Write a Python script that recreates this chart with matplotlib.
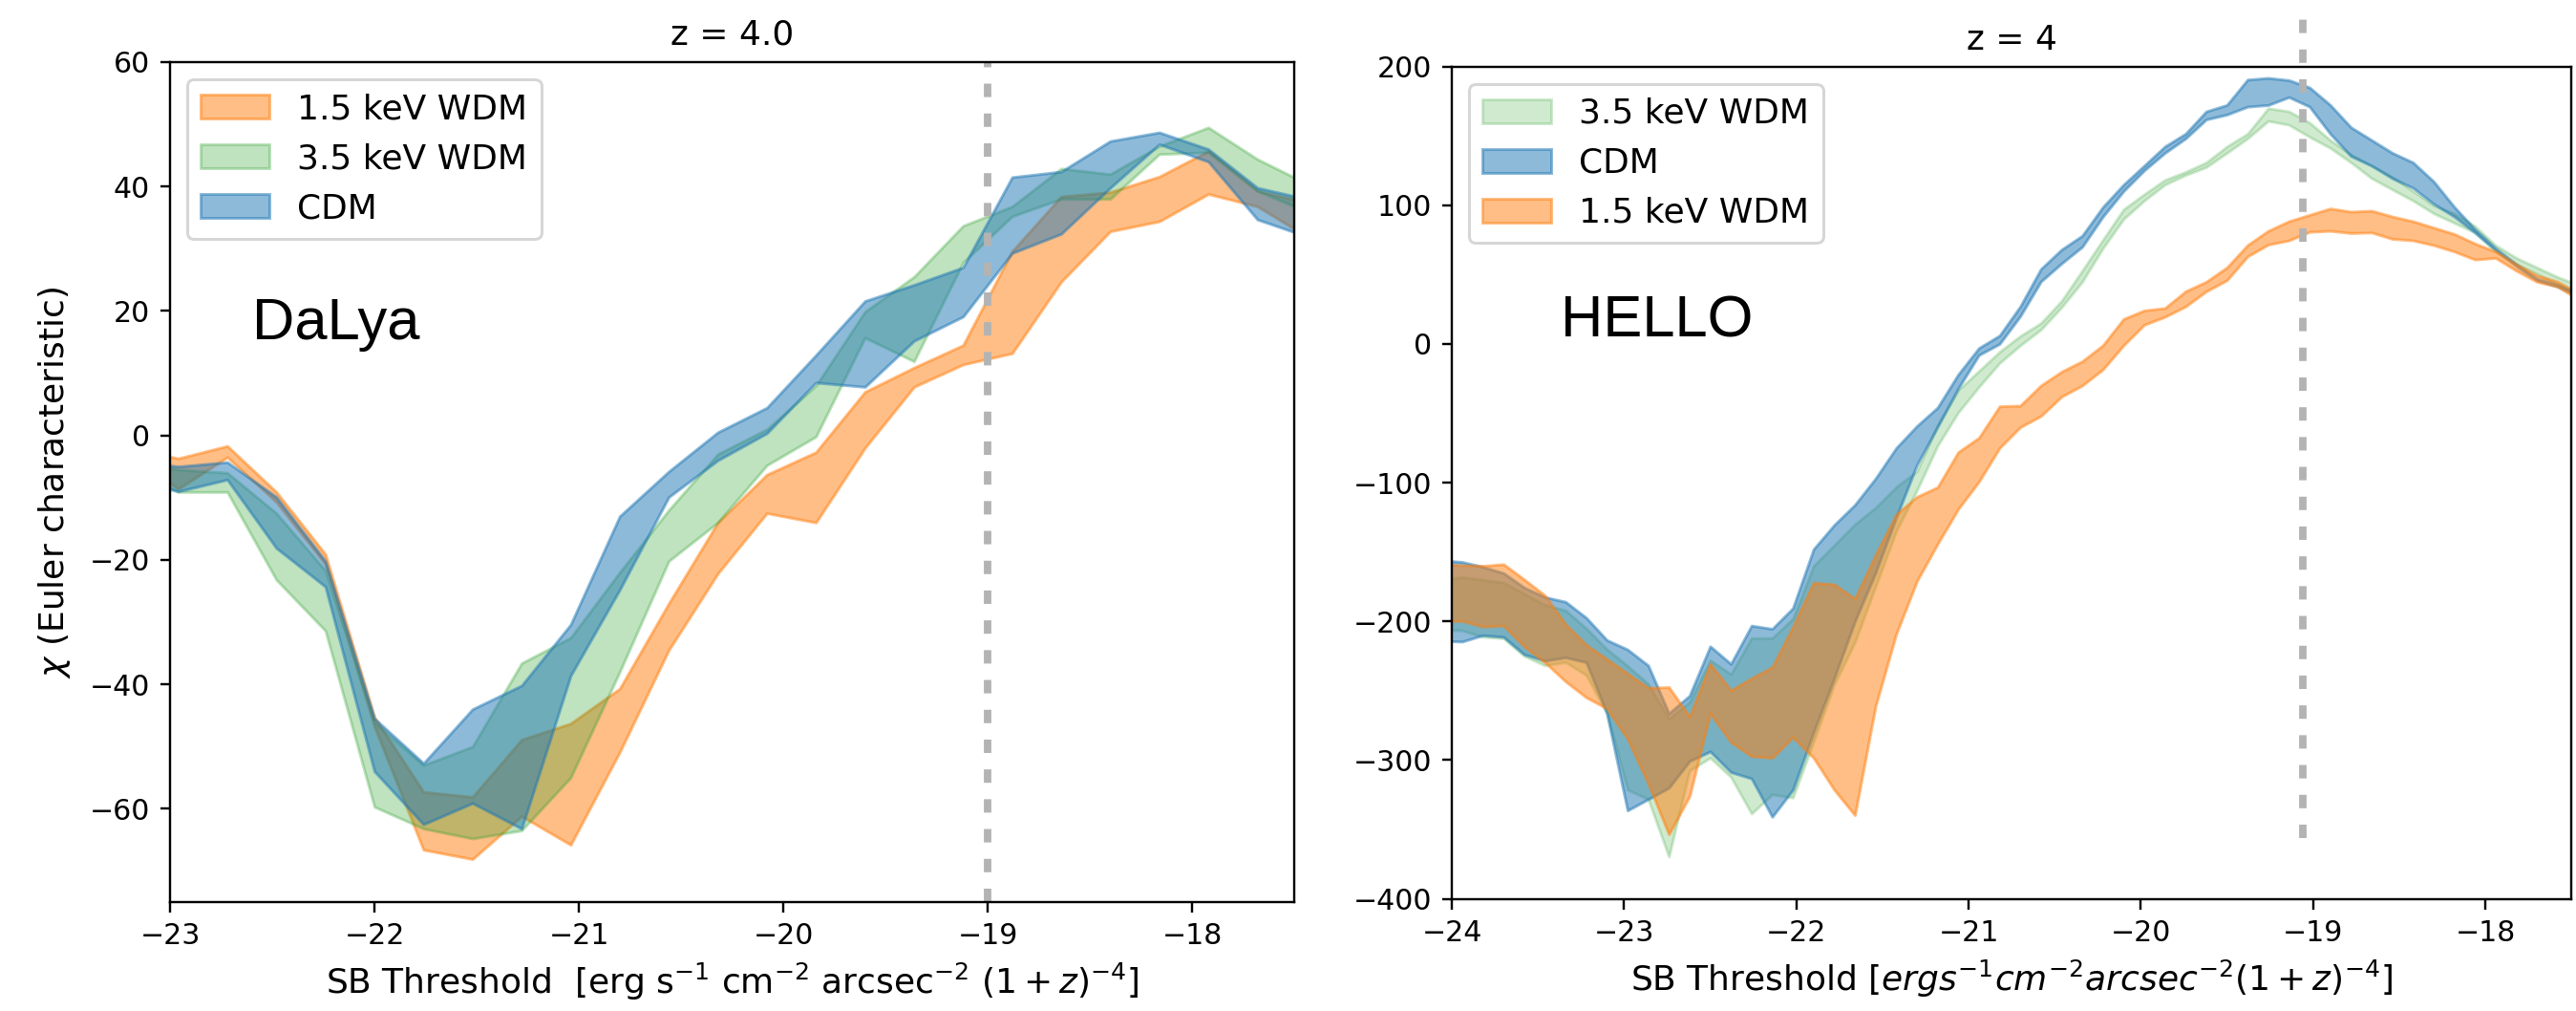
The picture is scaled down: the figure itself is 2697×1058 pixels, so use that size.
import numpy as np
import matplotlib
matplotlib.use('Agg')
import matplotlib.pyplot as plt

# ---- left panel: DaLya, z = 4.0 ----
x_dalya = [-23.2, -22.96, -22.72, -22.48, -22.24, -22.0, -21.76, -21.52, -21.28, -21.04,
           -20.8, -20.56, -20.32, -20.08, -19.84, -19.6, -19.36, -19.12, -18.88, -18.64,
           -18.4, -18.16, -17.92, -17.68, -17.44]

wdm15_lo_d = [-3.0, -8.6, -3.5, -10.7, -20.7, -46.8, -66.6, -68.1, -61.2, -65.8,
              -50.9, -34.5, -22.2, -12.5, -14.0, -2.0, 7.8, 11.4, 13.2, 24.7,
              32.8, 34.4, 38.8, 36.8, 32.0]
wdm15_hi_d = [-2.0, -3.7, -1.7, -9.1, -19.1, -45.3, -57.3, -58.1, -48.9, -46.3,
              -40.7, -27.0, -14.0, -6.3, -2.7, 7.0, 10.9, 14.5, 29.6, 38.4,
              39.1, 41.6, 45.7, 39.3, 37.5]

wdm35_lo_d = [-5.0, -9.1, -9.1, -23.2, -31.4, -59.7, -63.2, -64.8, -63.5, -55.0,
              -38.0, -20.2, -14.0, -4.8, -0.2, 15.7, 11.9, 27.8, 35.2, 38.0,
              38.0, 45.2, 45.5, 39.3, 36.0]
wdm35_hi_d = [-4.0, -5.5, -6.0, -12.5, -21.7, -46.1, -53.0, -50.0, -36.6, -32.5,
              -22.0, -12.0, -3.0, 1.0, 8.0, 19.9, 25.5, 33.7, 36.8, 42.9,
              42.0, 46.5, 49.5, 44.4, 40.5]

cdm_lo_d = [-7.0, -9.0, -7.1, -18.1, -24.3, -54.0, -62.5, -59.1, -63.2, -38.6,
            -24.8, -9.9, -4.0, 0.35, 8.5, 7.8, 15.2, 19.1, 29.3, 32.4,
            39.8, 46.8, 44.0, 34.7, 32.0]
cdm_hi_d = [-4.0, -5.0, -4.3, -9.9, -20.2, -45.5, -52.7, -44.0, -40.2, -30.4,
            -13.0, -5.8, 0.5, 4.45, 12.9, 21.6, 24.2, 27.0, 41.5, 42.4,
            47.3, 48.7, 46.0, 39.8, 38.0]

# ---- right panel: HELLO, z = 4 ----
x_hello = [-24.06, -23.94, -23.82, -23.7, -23.58, -23.46, -23.34, -23.22, -23.1, -22.98,
           -22.86, -22.74, -22.62, -22.5, -22.38, -22.26, -22.14, -22.02, -21.9, -21.78,
           -21.66, -21.54, -21.42, -21.3, -21.18, -21.06, -20.94, -20.82, -20.7, -20.58,
           -20.46, -20.34, -20.22, -20.1, -19.98, -19.86, -19.74, -19.62, -19.5, -19.38,
           -19.26, -19.14, -19.02, -18.9, -18.78, -18.66, -18.54, -18.42, -18.3, -18.18,
           -18.06, -17.94, -17.82, -17.7, -17.58, -17.46]

wdm15_lo_h = [-200, -199.7, -203.8, -203.1, -218, -229.5, -243.3, -254.8, -262.8, -284.6,
              -316.8, -353.5, -326, -266.3, -287, -297.2, -298.4, -283.5, -298.4, -321.4,
              -339.7, -261, -209, -171, -144.2, -119, -99.3, -75, -60, -52,
              -38, -30, -18.4, -1, 13.8, 19.5, 27, 37.9, 45.9, 63.1,
              71.6, 74.6, 80.8, 81.5, 79.9, 80.3, 75.7, 74.6, 71.2, 66.6,
              60.8, 62, 52.8, 44.8, 41.3, 32.1]
wdm15_hi_h = [-159, -159.5, -160, -158.8, -169.8, -181.3, -202, -216.9, -227.2, -237.6,
              -247.9, -247.4, -268.6, -230.7, -249.7, -241, -233, -204, -172.1, -173.3,
              -183.6, -152, -122.8, -110.2, -103.3, -78, -67.7, -45, -44.5, -30,
              -20, -12.5, -1, 18, 24.1, 25.8, 37.9, 44.8, 55.1, 71.2,
              81.5, 88.4, 93, 97.6, 95.3, 96, 91.8, 88.4, 83.8, 79.2,
              72.3, 66.6, 57.4, 49.4, 44.8, 36.7]

cdm_lo_h = [-214, -214.6, -210, -211.2, -223.8, -228.4, -226, -229.5, -266.3, -336.3,
            -328.2, -320, -300.7, -293.8, -308.7, -313.3, -340.9, -321.4, -280, -241,
            -200, -165, -125, -87.2, -59.7, -32, -8, 0, 20, 45,
            58, 70, 91.8, 110.2, 125.1, 137.7, 148.1, 161.8, 165.3, 171,
            172.2, 177.9, 171, 151.5, 135.4, 128.5, 119.4, 112.5, 101, 91.8,
            80.3, 67.7, 56.2, 45.9, 41.3, 34.4]
cdm_hi_h = [-156, -157.2, -160.7, -165.2, -175.6, -182.5, -185.9, -197.4, -213.5, -220.3,
            -231.8, -266.3, -253.6, -218, -230.7, -203.1, -205.4, -190.5, -148, -130.5,
            -116, -97, -75, -59.2, -45.9, -22, -3, 6, 27, 54,
            68, 78, 98.7, 114.8, 128.5, 142.3, 151.5, 167.6, 172.2, 190.5,
            191.7, 190.1, 184.8, 172.2, 156.1, 146.9, 137.7, 130.8, 117.1, 98.7,
            82.6, 68.9, 57.4, 47, 42.5, 36.7]

wdm35_lo_h = [-206, -206.6, -211.2, -212.3, -225, -231.8, -229.5, -238.7, -266.3, -321.4,
              -328.2, -369.6, -307.6, -298.4, -312.2, -338.6, -324.8, -327.1, -286.9, -245.6,
              -215, -175, -135, -105.6, -73.4, -49.4, -31, -13.8, -1.1, 10.3,
              26.4, 44.8, 69, 90, 103.3, 114.8, 121.7, 127.4, 137.7, 148.1,
              160.7, 157.9, 149.2, 141.2, 130.8, 119.4, 111.3, 103.3, 94.1, 87.2,
              80.3, 66.6, 57.4, 50.5, 42.5, 36.7]
wdm35_hi_h = [-170, -168, -170, -172, -180, -188, -192, -205, -220, -232,
              -245, -270, -258, -228, -238, -212, -212, -198, -160, -145,
              -130, -118, -103, -91.8, -58.5, -33.3, -19.5, -5.7, 5.7, 15,
              31, 52.8, 75, 97, 107.9, 118.2, 124, 130.8, 142.3, 151.5,
              169.9, 167.6, 159.5, 146.9, 136.6, 128.5, 120.5, 110.2, 99.9, 94.1,
              84.9, 71.1, 62, 55.1, 48.2, 42.5]

dpi = 216
fig = plt.figure(figsize=(2697 / dpi, 1058 / dpi), dpi=dpi)
ax1 = fig.add_axes([0.0660, 0.1078, 0.4364, 0.8308])
ax2 = fig.add_axes([0.5636, 0.1110, 0.4346, 0.8233])

dash = (0, (1.8, 2.2))

# left
ax1.fill_between(x_dalya, wdm15_lo_d, wdm15_hi_d, color='C1', alpha=0.5, label='1.5 keV WDM')
ax1.fill_between(x_dalya, wdm35_lo_d, wdm35_hi_d, color='C2', alpha=0.3, label='3.5 keV WDM')
ax1.fill_between(x_dalya, cdm_lo_d, cdm_hi_d, color='C0', alpha=0.5, label='CDM')
ax1.axvline(-19, color='0.7', lw=2.6, ls=dash)
ax1.set_xlim(-23, -17.5)
ax1.set_ylim(-75, 60)
ax1.set_title('z = 4.0', fontsize=12)
ax1.set_xlabel(r'SB Threshold  [erg s$^{-1}$ cm$^{-2}$ arcsec$^{-2}$ $(1 + z)^{-4}$]', fontsize=12)
ax1.set_ylabel(r'$\chi$ (Euler characteristic)', fontsize=12, labelpad=6)
ax1.legend(loc='upper left', fontsize=12)
ax1.text(-22.6, 15.5, 'DaLya', family='Liberation Sans', fontsize=20.5)

# right
ax2.fill_between(x_hello, wdm35_lo_h, wdm35_hi_h, color='C2', alpha=0.22, label='3.5 keV WDM')
ax2.fill_between(x_hello, cdm_lo_h, cdm_hi_h, color='C0', alpha=0.5, label='CDM')
ax2.fill_between(x_hello, wdm15_lo_h, wdm15_hi_h, color='C1', alpha=0.5, label='1.5 keV WDM')
ax2.vlines(-19.06, -356, 243, color='0.7', lw=2.6, ls=dash, clip_on=False)
ax2.set_xlim(-24, -17.5)
ax2.set_ylim(-400, 200)
ax2.set_title('z = 4', fontsize=12)
ax2.set_xlabel(r'SB Threshold [$ergs^{-1}cm^{-2}arcsec^{-2}(1+z)^{-4}$]', fontsize=12)
ax2.legend(loc='upper left', fontsize=12)
ax2.text(-23.37, 4.8, 'HELLO', family='Liberation Sans', fontsize=20.5)

fig.savefig('out.png', dpi=dpi)
